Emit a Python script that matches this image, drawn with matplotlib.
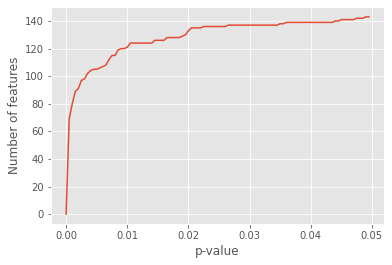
import numpy as np
import matplotlib
matplotlib.use('Agg')
import matplotlib.pyplot as plt

plt.style.use('ggplot')

# p-value thresholds (pas de 0.0005)
pvalues = np.arange(100) * 0.0005
# nombre de features retenues pour chaque seuil
nb_features = [0, 69, 80, 89, 91, 97, 98, 102, 104, 105,
               105, 106, 107, 108, 112, 115, 115, 119, 120, 120,
               121, 124, 124, 124, 124, 124, 124, 124, 124, 126,
               126, 126, 126, 128, 128, 128, 128, 128, 129, 130,
               133, 135, 135, 135, 135, 136, 136, 136, 136, 136,
               136, 136, 136, 137, 137, 137, 137, 137, 137, 137,
               137, 137, 137, 137, 137, 137, 137, 137, 137, 137,
               138, 138, 139, 139, 139, 139, 139, 139, 139, 139,
               139, 139, 139, 139, 139, 139, 139, 139, 140, 140,
               141, 141, 141, 141, 141, 142, 142, 142, 143, 143]

fig = plt.figure(figsize=(392/72, 265/72), dpi=72)
ax = fig.add_subplot()
fig.subplots_adjust(left=51/392, right=384/392, top=1-7/265, bottom=1-224/265)
ax.plot(pvalues, nb_features)
ax.set_xlabel('p-value')
ax.set_ylabel('Number of features')
ax.set_xticks([0, 0.01, 0.02, 0.03, 0.04, 0.05])
ax.set_yticks(range(0, 141, 20))
fig.savefig('out.png', dpi=72)
